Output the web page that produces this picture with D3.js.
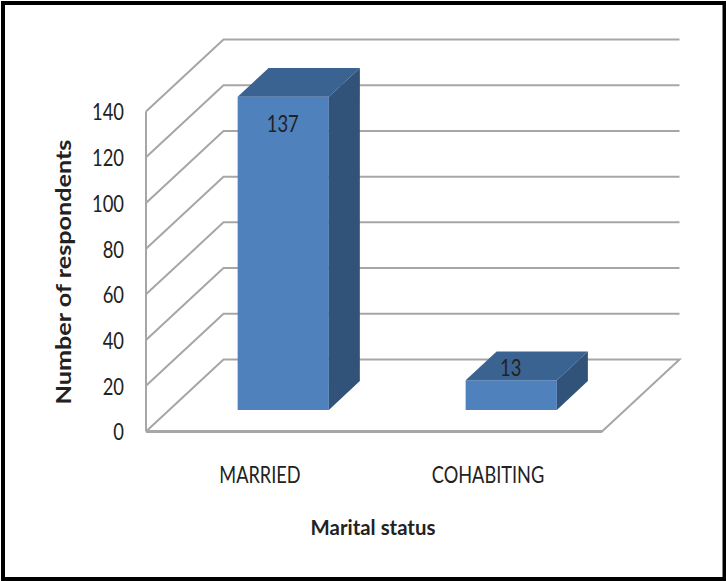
<!DOCTYPE html>
<html>
<head>
<meta charset="utf-8">
<script src="https://cdn.jsdelivr.net/npm/d3@7/dist/d3.min.js"></script>
<style>
  html, body { margin: 0; padding: 0; background: #fff; }
  svg { display: block; }
  text { font-family: Lato, "Open Sans", sans-serif; fill: #222; }
</style>
</head>
<body>
<svg id="chart" width="726" height="581"></svg>
<script>
// Marital status of respondents, as a pseudo-3D column chart
const categories = ["MARRIED", "COHABITING"];
const respondents = [137, 13];
const yTicks = [0, 20, 40, 60, 80, 100, 120, 140];

const svg = d3.select("#chart");

// Front plane of the plot box
const x = d3.scaleBand().domain(categories).range([146, 602]).paddingInner(0.6).paddingOuter(0.3);
const y = d3.scaleLinear().domain([0, 140]).range([431.5, 111.5]);

// Depth runs from the front plane (0) to the back wall (1)
const depthX = d3.scaleLinear().domain([0, 1]).range([0, 77.5]);
const depthY = d3.scaleLinear().domain([0, 1]).range([0, -72]);
const barDepth = [0.3, 0.7];

const project = (px, py, d) => [px + depthX(d), py + depthY(d)];
const poly = pts => pts.map(p => p.join(",")).join(" ");

// Tall, condensed lettering: squeeze each run horizontally to the given factor
const condense = (selection, factor) => selection.each(function () {
  const natural = this.getComputedTextLength();
  d3.select(this).attr("textLength", natural * factor).attr("lengthAdjust", "spacingAndGlyphs");
});

// Outer frame
svg.append("rect")
  .attr("x", 3).attr("y", 3)
  .attr("width", 721.5).attr("height", 576)
  .attr("fill", "#fff").attr("stroke", "#000").attr("stroke-width", 4);

// Walls and floor
const grid = svg.append("g").attr("fill", "none").attr("stroke", "#a6a6a6").attr("stroke-width", 2);
const [x0, x1] = x.range();

yTicks.forEach(t => {
  const a = project(x0, y(t), 0), b = project(x0, y(t), 1), c = project(x1, y(t), 1);
  grid.append("polyline")
    .attr("points", poly(t === 0 ? [a, b, c, project(x1, y(t), 0), a] : [a, b, c]));
});
grid.append("line")
  .attr("x1", x0).attr("x2", x0)
  .attr("y1", y(0)).attr("y2", y(140));
// Heavier front edge of the floor
grid.append("line")
  .attr("stroke-width", 3)
  .attr("x1", x0).attr("x2", x1)
  .attr("y1", y(0)).attr("y2", y(0));

// Value axis labels
const axis = svg.append("g")
  .attr("transform", `translate(${x0 - 1},1)`)
  .call(d3.axisLeft(y).tickValues(yTicks).tickSize(0).tickPadding(21));
axis.select(".domain").remove();
axis.selectAll("text")
  .style("font-family", "Lato, sans-serif").style("font-size", "23px").attr("fill", "#222")
  .call(condense, 0.8);

// Columns
const bars = svg.append("g").selectAll("g")
  .data(categories.map((c, i) => ({ c, v: respondents[i] })))
  .join("g");

const corners = d => {
  const l = x(d.c), r = l + x.bandwidth(), t = y(d.v), b = y(0);
  return { l, r, t, b };
};

bars.append("polygon").attr("fill", "#4f81bd").attr("points", d => {
  const { l, r, t, b } = corners(d);
  return poly([project(l, t, barDepth[0]), project(r, t, barDepth[0]), project(r, b, barDepth[0]), project(l, b, barDepth[0])]);
});
bars.append("polygon").attr("fill", "#3b6391").attr("points", d => {
  const { l, r, t } = corners(d);
  return poly([project(l, t, barDepth[0]), project(r, t, barDepth[0]), project(r, t, barDepth[1]), project(l, t, barDepth[1])]);
});
bars.append("polygon").attr("fill", "#325379").attr("points", d => {
  const { r, t, b } = corners(d);
  return poly([project(r, t, barDepth[0]), project(r, t, barDepth[1]), project(r, b, barDepth[1]), project(r, b, barDepth[0])]);
});

// Value labels: inside the tall column, on the top face of the short one
bars.append("text")
  .attr("text-anchor", "middle")
  .attr("font-size", 23)
  .attr("x", d => x(d.c) + x.bandwidth() / 2 + depthX(barDepth[0]) - 0.5)
  .attr("y", d => project(0, y(d.v), barDepth[0])[1] + (d.v < 50 ? -4 : 35))
  .text(d => d.v)
  .call(condense, 0.8);

// Category labels
svg.append("g").selectAll("text")
  .data(categories)
  .join("text")
  .attr("text-anchor", "middle")
  .attr("font-size", 23)
  .attr("x", d => x(d) + x.bandwidth() / 2)
  .attr("y", 483)
  .text(d => d)
  .call(condense, 0.79);

// Axis titles
svg.append("text")
  .attr("text-anchor", "middle")
  .attr("font-size", 21)
  .attr("font-weight", 700)
  .attr("fill", "#111")
  .attr("x", 373).attr("y", 535)
  .text("Marital status")
  .call(condense, 0.97);

svg.append("text")
  .attr("text-anchor", "middle")
  .attr("font-size", 20)
  .attr("font-weight", 700)
  .attr("transform", "translate(71,272) rotate(-90)")
  .text("Number of respondents")
  .call(condense, 1.26);
</script>
</body>
</html>
